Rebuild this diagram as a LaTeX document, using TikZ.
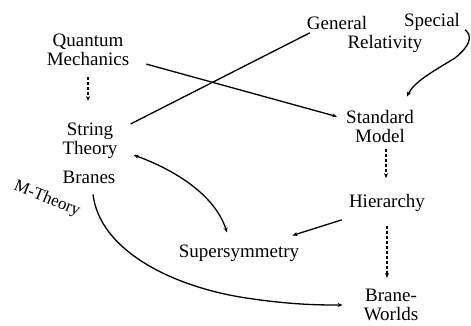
\documentclass[tikz,border=0pt]{standalone}
\usepackage{fontspec}
\setmainfont{Liberation Serif}
\usetikzlibrary{arrows.meta}
\begin{document}
\begin{tikzpicture}[x=1pt,y=-1pt,
 lbl/.style={inner sep=1pt,align=center,font=\fontsize{19}{19}\selectfont},
 conn/.style={line width=1.3pt,-{Stealth[length=5pt,width=4pt]}},
 both/.style={line width=1.3pt,{Stealth[length=5pt,width=4pt]}-{Stealth[length=5pt,width=4pt]}},
 plainline/.style={line width=1.3pt},
 dashconn/.style={line width=1.3pt,dash pattern=on 3pt off 2pt,-{Stealth[length=5pt,width=4pt]}}]
\useasboundingbox (0,0) rectangle (471,326);
\node[lbl] (qm) at (88,50) {Quantum\\Mechanics};
\node[lbl] (st) at (90,141) {String\\Theory};
\node[lbl] (br) at (89,177) {Branes};
\node[inner sep=0pt,rotate=-22,font=\fontsize{17}{19}\selectfont] (mt) at (47,199) {M-Theory};
\node[lbl] (gen) at (337,23) {General};
\node[lbl] (spe) at (432,22) {Special};
\node[lbl] (rel) at (385,44) {Relativity};
\node[lbl] (sm) at (380,127) {Standard\\Model};
\node[lbl] (hi) at (387,203) {Hierarchy};
\node[lbl] (ss) at (239,253) {Supersymmetry};
\node[lbl] (bw) at (391,305) {Brane-\\Worlds};

\draw[plainline] ([shift={(12,2)}]st.north east) -- ([shift={(4,2)}]gen.south west);
\draw[conn] ([shift={(16,-3)}]qm.south east) -- ([shift={(-8,7)}]sm.north west);
\draw[conn] ([shift={(4,-2)}]spe.south east) .. controls (473,36) and (470,46) .. (455,58)
   .. controls (432,72) and (414,82) .. ([shift={(-8,-13)}]sm.north east);
\draw[both] ([shift={(15,-5)}]st.south east) .. controls (175,170) and (215,195) .. ([shift={(-12,-11)}]ss.north);
\draw[conn] ([shift={(-6,7)}]hi.south west) -- ([shift={(-8,-8)}]ss.north east);
\draw[conn] ([shift={(4,10)}]br.south) .. controls (100,250) and (170,285) .. (240,297)
   .. controls (290,305) and (320,305) .. ([shift={(-20,0)}]bw.west);
\draw[dashconn] ([shift={(0,10)}]qm.south) -- ([shift={(-2,-21)}]st.north);
\draw[dashconn] ([shift={(6,5)}]sm.south) -- ([shift={(-1,-15)}]hi.north);
\draw[dashconn] ([shift={(0,13)}]hi.south) -- ([shift={(-4,-10)}]bw.north);
\end{tikzpicture}
\end{document}
